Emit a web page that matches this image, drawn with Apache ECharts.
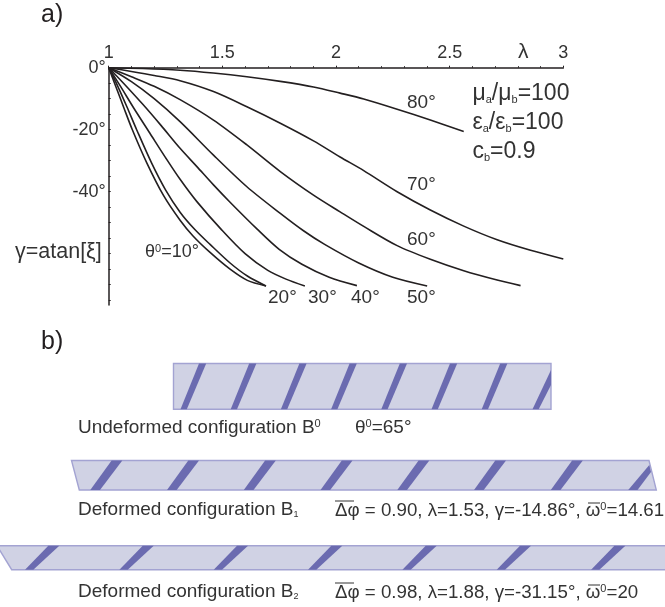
<!DOCTYPE html>
<html><head><meta charset="utf-8">
<style>html,body{margin:0;padding:0;background:#fff}#c{width:665px;height:607px}</style>
<script src="https://cdn.jsdelivr.net/npm/echarts@6/dist/echarts.min.js"></script>
</head><body><div id="c"></div>
<script>
const xTicks = [1, 1.5, 2, 2.5, 3];
const yLabels = [0, -20, -40];
const yTickValues = [0,-5,-10,-15,-20,-25,-30,-35,-40,-45,-50,-55,-60,-65,-70,-75];
const curve10 = [[1,0],[1.03,-5.8],[1.067,-13],[1.104,-20],[1.167,-30.6],[1.241,-41.2],[1.314,-49.2],[1.37,-54.2],[1.446,-59.6],[1.534,-65],[1.61,-68.6],[1.692,-70.4]];
const curve20 = [[1,0],[1.04,-6],[1.08,-12.6],[1.123,-20],[1.189,-30.8],[1.25,-39.4],[1.314,-46.6],[1.379,-52.2],[1.446,-57],[1.534,-63],[1.61,-67.2],[1.692,-70.4]];
const curve30 = [[1,0],[1.05,-5.8],[1.11,-13],[1.18,-21],[1.25,-29],[1.314,-36],[1.388,-43.2],[1.498,-52.4],[1.6,-60],[1.7,-65.4],[1.78,-68.2],[1.863,-70.4]];
const curve40 = [[1,0],[1.06,-4.6],[1.15,-11.8],[1.23,-18.6],[1.314,-26],[1.388,-31.9],[1.461,-37.8],[1.534,-43.4],[1.652,-52],[1.75,-58.6],[1.85,-63.4],[1.97,-67.6],[2.092,-70.3]];
const curve50 = [[1,0],[1.1,-4.5],[1.2,-10],[1.314,-17.4],[1.461,-28.2],[1.608,-38.4],[1.755,-47],[1.857,-52.6],[1.95,-57],[2.1,-63],[2.25,-67.6],[2.401,-70.4]];
const curve60 = [[1,0],[1.1,-2.9],[1.2,-6],[1.314,-10.3],[1.461,-16.9],[1.608,-24.9],[1.755,-33.5],[1.901,-41.1],[2.018,-46.5],[2.122,-51.2],[2.269,-57.4],[2.415,-61.8],[2.562,-65.5],[2.709,-68.5],[2.812,-70.3]];
const curve70 = [[1,0],[1.1,-1.2],[1.2,-2.5],[1.314,-4.2],[1.461,-7.7],[1.608,-12.6],[1.755,-17.9],[1.901,-23.6],[2.018,-28.8],[2.122,-33.2],[2.269,-40],[2.415,-45.9],[2.562,-51.1],[2.709,-55.5],[2.856,-58.9],[3,-61.7]];
const curve80 = [[1,0],[1.15,-0.25],[1.314,-0.8],[1.46,-1.7],[1.608,-2.9],[1.755,-4.4],[1.901,-6.2],[2.018,-8.2],[2.122,-10.1],[2.269,-13.4],[2.415,-16.9],[2.562,-20.6]];
const curves = {'10°':curve10,'20°':curve20,'30°':curve30,'40°':curve40,'50°':curve50,'60°':curve60,'70°':curve70,'80°':curve80};

// schematic strips of panel b), in the hidden canvas-sized axes
const strip0 = [[173.5,363.5],[551,363.5],[551,409.3],[173.5,409.3]];
const strip1 = [[71.5,460.5],[649,460.5],[656.3,490],[79.3,490]];
const strip2 = [[-3,545.7],[670,545.7],[670,569.7],[11.7,569.7]];
const stripes0 = [180.5,230.7,280.9,331.1,381.3,431.5,481.7];
const stripes1 = [90.3,167,243.8,320.5,397.3,474,550.8];
const stripes2 = [25,119.4,213.7,308,402.4,496.7,591.1];
const clipped0 = [[532.5,409.3],[538.7,409.3],[551,385],[551,370]];
const clipped1 = [[628.2,490],[637.5,490],[651,472],[649.3,465]];

const TEXT='#333333', INK='#231f20', FONT='"Liberation Sans", Arial, sans-serif';
const polys=[];
[strip0,strip1,strip2].forEach(p=>polys.push({pts:p,kind:'strip'}));
stripes0.forEach(x=>polys.push({kind:'s',pts:[[x,409.3],[x+6.3,409.3],[x+25.7,363.5],[x+18.5,363.5]]}));
stripes1.forEach(x=>polys.push({kind:'s',pts:[[x,490],[x+9.7,490],[x+32,460.5],[x+21.3,460.5]]}));
stripes2.forEach(x=>polys.push({kind:'s',pts:[[x,569.7],[x+8.3,569.7],[x+34.3,545.7],[x+23.3,545.7]]}));
polys.push({kind:'s',pts:clipped0},{kind:'s',pts:clipped1});

const rich={
  sub:{fontSize:11,fontFamily:FONT,fill:TEXT,verticalAlign:'bottom'},
  sub2:{fontSize:9,fontFamily:FONT,fill:TEXT,verticalAlign:'bottom'},
  sup:{fontSize:11,fontFamily:FONT,fill:TEXT,verticalAlign:'top'}
};
function T(x,y,text,size,opt){
  return {type:'text',x:x,y:y,z:20,style:{text:text,fontSize:size,fontFamily:(opt&&opt.ff)||FONT,fill:(opt&&opt.fill)||TEXT,textVerticalAlign:'middle',textAlign:'left',rich:rich}};
}
function L(x1,x2,y){return {type:'line',z:20,shape:{x1:x1,y1:y,x2:x2,y2:y},style:{stroke:TEXT,lineWidth:1}};}

const texts=[
 T(41,15,'a)',25,{fill:INK}), T(41,342,'b)',25,{fill:INK}),
 T(518,52,'λ',21),
 T(407,103,'80°',19),T(407,185,'70°',19),T(407,240,'60°',19),T(407,298,'50°',19),T(351,298,'40°',19),T(308,298,'30°',19),T(268,298,'20°',19),
 T(145,252,'θ{sup|0}=10°',18),
 T(15,252,'γ=atan[ξ]',21.5),
 T(472.5,94,'μ{sub|a}/μ{sub|b}=100',23),T(472.5,123,'ε{sub|a}/ε{sub|b}=100',23),T(472.5,152,'c{sub|b}=0.9',23),
 T(78,428,'Undeformed configuration B{sup|0}',19),T(355,428,'θ{sup|0}=65°',19),
 T(78,509.5,'Deformed configuration B{sub2|1}',19),T(78,591.5,'Deformed configuration B{sub2|2}',19),
 T(335,510.5,'Δφ = 0.90, λ=1.53, γ=-14.86°, ω{sup|0}=14.61',18.7),
 T(335,592.5,'Δφ = 0.98, λ=1.88, γ=-31.15°, ω{sup|0}=20',18.7),
 L(335,354,501),L(335,354,583),L(588,600,503),L(588,600,585)
];

const chart=echarts.init(document.getElementById('c'),null,{renderer:'canvas'});
const lineSeries=Object.keys(curves).map(k=>({type:'line',name:'θ⁰='+k,xAxisIndex:0,yAxisIndex:0,data:curves[k],showSymbol:false,smooth:0.3,clip:false,lineStyle:{color:INK,width:1.6}}));
chart.setOption({
 animation:false,backgroundColor:'#fff',
 grid:[{left:108.7,top:67.7,width:454.6,height:237.3},{left:0,top:0,width:665,height:607}],
 xAxis:[
  {type:'value',gridIndex:0,position:'top',min:1,max:3,interval:0.5,
   axisLine:{show:true,lineStyle:{color:INK,width:1.5}},axisTick:{show:true,length:2,lineStyle:{color:INK,width:1}},
   minorTick:{show:true,splitNumber:5,length:1.5,lineStyle:{color:INK,width:1}},splitLine:{show:false},
   axisLabel:{show:true,margin:6,fontSize:18,fontFamily:FONT,color:TEXT,formatter:v=>String(v),customValues:xTicks}},
  {type:'value',gridIndex:1,show:false,min:0,max:665}
 ],
 yAxis:[
  {type:'value',gridIndex:0,min:-76.55,max:0,
   axisLine:{show:true,onZero:false,lineStyle:{color:INK,width:1.5}},
   axisTick:{show:true,inside:true,length:2,lineStyle:{color:INK,width:1},customValues:yTickValues},splitLine:{show:false},
   axisLabel:{show:true,margin:3,fontSize:18,fontFamily:FONT,color:TEXT,formatter:v=>v+'°',customValues:yLabels}},
  {type:'value',gridIndex:1,show:false,min:0,max:607,inverse:true}
 ],
 series:lineSeries.concat([{
  type:'custom',xAxisIndex:1,yAxisIndex:1,silent:true,clip:false,z:1,
  data:polys.map((p,i)=>[i]),
  renderItem:(params,api)=>{
    const p=polys[api.value(0)];
    const pts=p.pts.map(q=>api.coord(q));
    return p.kind==='strip'
      ?{type:'polygon',shape:{points:pts},style:{fill:'#d0d2e4',stroke:'#a3a3d2',lineWidth:1.4},z2:1}
      :{type:'polygon',shape:{points:pts},style:{fill:'#6b6bb0',stroke:null},z2:2};
  }
 }]),
 graphic:{elements:texts}
});
</script></body></html>
